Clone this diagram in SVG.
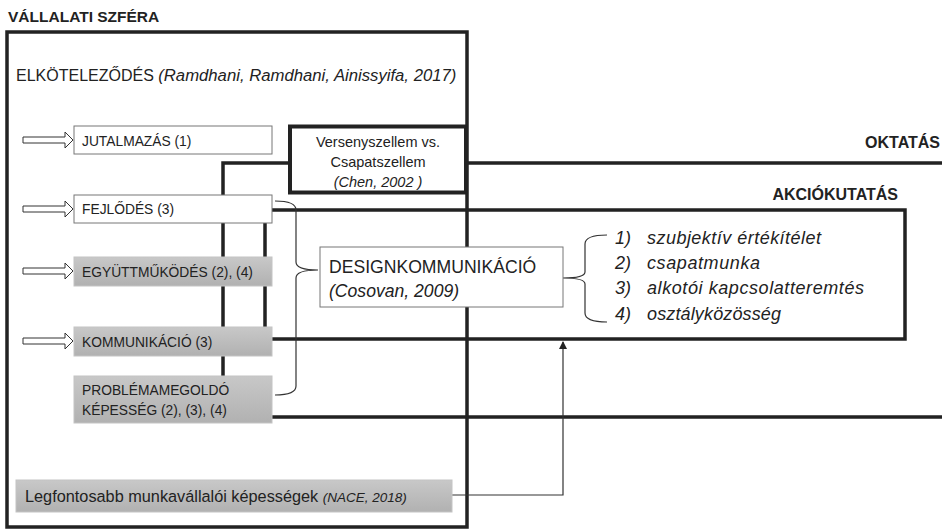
<svg xmlns="http://www.w3.org/2000/svg" width="942" height="529" viewBox="0 0 942 529">
<defs>
<linearGradient id="gray" x1="0" y1="0" x2="0" y2="1">
<stop offset="0" stop-color="#c8c8c8"/>
<stop offset="1" stop-color="#b1b1b1"/>
</linearGradient>
<marker id="tri" markerWidth="8" markerHeight="8" refX="7" refY="4" orient="auto" markerUnits="userSpaceOnUse">
<path d="M0,0 L8,4 L0,8 z" fill="#222"/>
</marker>
<style>
text{font-family:"Liberation Sans",Arial,sans-serif;fill:#222}
.h{font-weight:bold;font-size:16px}
.lbl{font-size:13.8px}
.it{font-style:italic}
.thick{fill:none;stroke:#222;stroke-width:3.5}
.thin{fill:none;stroke:#333;stroke-width:1.2}
.wbox{fill:#fff;stroke:#777;stroke-width:1}
.gbox{fill:url(#gray);stroke:#c4c4c4;stroke-width:1}
.harrow{fill:#fff;stroke:#333;stroke-width:1}
.list{font-size:18px;font-style:italic}
</style>
</defs>

<text class="h" x="8" y="22" style="font-size:15.5px">VÁLLALATI SZFÉRA</text>
<text class="h" x="940" y="148" text-anchor="end">OKTATÁS</text>
<text class="h" x="898" y="200" text-anchor="end">AKCIÓKUTATÁS</text>

<g id="connectors">
<rect class="thick" x="7" y="32" width="460" height="495"/>
<path class="thick" d="M942,163 H223 V417 H942"/>
<path class="thick" d="M265,339 V210 H905 V339 Z"/>
<path class="thin" d="M275,201 Q296,201 296,210 V262 Q296,270 318,270 Q296,270 296,278 V386 Q296,395 275,395"/>
<path class="thin" d="M607,235 Q585,235 585,244 V272 Q585,278 563,278 Q585,278 585,284 V313 Q585,322 607,322"/>
<path class="thin" d="M452,495 H563 V342" marker-end="url(#tri)"/>
<path class="harrow" d="M23,137 H65 V132 L73,140 L65,148 V143 H23 Z"/>
<path class="harrow" d="M23,206 H65 V201 L73,209 L65,217 V212 H23 Z"/>
<path class="harrow" d="M23,268 H65 V263 L73,271 L65,279 V274 H23 Z"/>
<path class="harrow" d="M23,338 H65 V333 L73,341 L65,349 V344 H23 Z"/>
</g>

<g id="elkotelezodes">
<text x="16" y="81" style="font-size:16px">ELKÖTELEZŐDÉS <tspan class="it" style="font-size:16.7px">(Ramdhani, Ramdhani, Ainissyifa, 2017)</tspan></text>
</g>

<g id="jutalmazas">
<rect class="wbox" x="74" y="126" width="198" height="28"/>
<text class="lbl" x="82" y="146">JUTALMAZÁS (1)</text>
</g>

<g id="versenyszellem">
<rect x="290" y="126.5" width="176" height="66" fill="#fff" stroke="#222" stroke-width="4"/>
<text class="lbl" x="378" y="147" text-anchor="middle" style="font-size:14.5px">Versenyszellem vs.</text>
<text class="lbl" x="378" y="167" text-anchor="middle" style="font-size:14.5px">Csapatszellem</text>
<text class="lbl it" x="378" y="187" text-anchor="middle" style="font-size:14.5px">(Chen, 2002 )</text>
</g>

<g id="fejlodes">
<rect class="wbox" x="74" y="195" width="198" height="28"/>
<text class="lbl" x="82" y="214">FEJLŐDÉS (3)</text>
</g>

<g id="egyuttmukodes">
<rect class="gbox" x="74" y="257" width="198" height="29"/>
<text class="lbl" x="82" y="277">EGYÜTTMŰKÖDÉS (2), (4)</text>
</g>

<g id="kommunikacio">
<rect class="gbox" x="74" y="327" width="198" height="29"/>
<text class="lbl" x="82" y="347">KOMMUNIKÁCIÓ (3)</text>
</g>

<g id="problemamegoldo">
<rect class="gbox" x="74" y="376" width="198" height="47"/>
<text class="lbl" x="82" y="395">PROBLÉMAMEGOLDÓ</text>
<text class="lbl" x="82" y="415">KÉPESSÉG (2), (3), (4)</text>
</g>

<g id="designkommunikacio">
<rect class="wbox" x="320" y="247" width="243" height="60"/>
<text x="329" y="273" style="font-size:17.6px">DESIGNKOMMUNIKÁCIÓ</text>
<text class="it" x="329" y="297" style="font-size:17.6px">(Cosovan, 2009)</text>
</g>

<g id="lista">
<text class="list" x="615" y="244">1)</text><text class="list" x="647" y="244" textLength="174">szubjektív értékítélet</text>
<text class="list" x="615" y="269">2)</text><text class="list" x="647" y="269" textLength="113">csapatmunka</text>
<text class="list" x="615" y="294">3)</text><text class="list" x="647" y="294" textLength="217">alkotói kapcsolatteremtés</text>
<text class="list" x="615" y="320">4)</text><text class="list" x="647" y="320" textLength="134">osztályközösség</text>
</g>

<g id="legfontosabb">
<rect class="gbox" x="16" y="480" width="436" height="32"/>
<text x="25" y="502" style="font-size:16.3px">Legfontosabb munkavállalói képességek <tspan class="it" style="font-size:13.5px">(NACE, 2018)</tspan></text>
</g>
</svg>
